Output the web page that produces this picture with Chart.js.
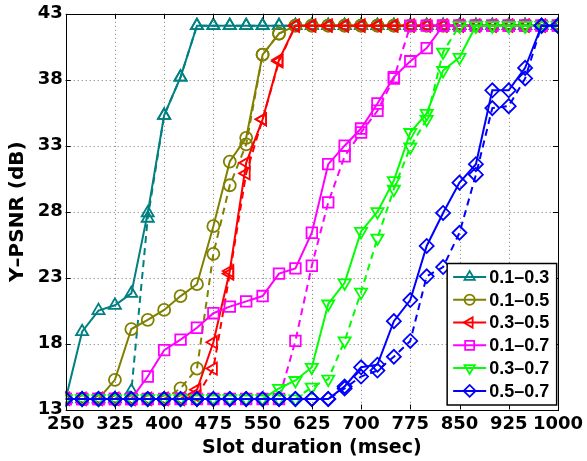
<!DOCTYPE html>
<html><head><meta charset="utf-8">
<script src="https://cdn.jsdelivr.net/npm/chart.js@4/dist/chart.umd.min.js"></script>
<style>html,body{margin:0;padding:0;background:#fff;}</style>
</head><body>
<canvas id="c" width="587" height="461" style="display:block;width:587px;height:461px"></canvas>
<script>
// ---- data ----
const slotDurations = [250,275,300,325,350,375,400,425,450,475,500,525,550,575,600,625,650,675,700,725,750,775,800,825,850,875,900,925,950,975,1000];
const xTickValues = [250,325,400,475,550,625,700,775,850,925,1000];
const yTickValues = [13,18,23,28,33,38,43];
const seriesLabels = ['0.1–0.3','0.1–0.5','0.3–0.5','0.1–0.7','0.3–0.7','0.5–0.7'];

const psnr_01_03_solid  = [13.8,18.9,20.5,20.9,21.8,27.9,35.3,38.2,42.1,42.1,42.1,42.1,42.1,42.1,42.1,42.1,42.1,42.1,42.1,42.1,42.1,42.1,42.1,42.1,42.1,42.1,42.1,42.1,42.1,42.1,42.1];
const psnr_01_03_dashed = [13.8,13.8,13.8,13.8,14.4,27.5,35.3,38.2,42.1,42.1,42.1,42.1,42.1,42.1,42.1,42.1,42.1,42.1,42.1,42.1,42.1,42.1,42.1,42.1,42.1,42.1,42.1,42.1,42.1,42.1,42.1];
const psnr_01_05_solid  = [13.8,13.8,13.8,15.25,19.1,19.8,20.55,21.6,22.5,26.9,31.8,33.6,39.9,41.5,42.1,42.1,42.1,42.1,42.1,42.1,42.1,42.1,42.1,42.1,42.1,42.1,42.1,42.1,42.1,42.1,42.1];
const psnr_01_05_dashed = [13.8,13.8,13.8,13.8,13.8,13.8,13.8,14.6,16.1,24.8,30.0,33.1,39.9,41.5,42.1,42.1,42.1,42.1,42.1,42.1,42.1,42.1,42.1,42.1,42.1,42.1,42.1,42.1,42.1,42.1,42.1];
const psnr_03_05_solid  = [13.8,13.8,13.8,13.8,13.8,13.8,13.8,13.8,14.5,18.1,23.5,31.7,35.0,39.5,42.1,42.1,42.1,42.1,42.1,42.1,42.1,42.1,42.1,42.1,42.1,42.1,42.1,42.1,42.1,42.1,42.1];
const psnr_03_05_dashed = [13.8,13.8,13.8,13.8,13.8,13.8,13.8,13.8,14.0,16.1,23.3,30.9,35.0,39.4,42.1,42.1,42.1,42.1,42.1,42.1,42.1,42.1,42.1,42.1,42.1,42.1,42.1,42.1,42.1,42.1,42.1];
const psnr_01_07_solid  = [13.8,13.8,13.8,13.8,13.8,15.5,17.5,18.3,19.2,20.3,20.8,21.2,21.6,23.3,23.7,26.4,31.6,33.0,34.3,36.2,38.2,39.4,40.4,42.1,42.1,42.1,42.1,42.1,42.1,42.1,42.1];
const psnr_01_07_dashed = [13.8,13.8,13.8,13.8,13.8,13.8,13.8,13.8,13.8,13.8,13.8,13.8,13.8,13.8,18.2,23.9,28.7,32.2,34.0,35.65,38.1,42.1,42.1,42.1,42.1,42.1,42.1,42.1,42.1,42.1,42.1];
const psnr_03_07_solid  = [13.8,13.8,13.8,13.8,13.8,13.8,13.8,13.8,13.8,13.8,13.8,13.8,13.8,14.6,15.2,16.2,21.0,22.6,26.5,28.0,30.35,34.0,35.45,38.7,39.7,42.1,42.1,42.1,42.1,42.1,42.1];
const psnr_03_07_dashed = [13.8,13.8,13.8,13.8,13.8,13.8,13.8,13.8,13.8,13.8,13.8,13.8,13.8,13.8,13.8,14.7,15.3,18.2,21.9,26.0,29.7,32.9,35.0,40.1,42.1,42.1,42.1,42.1,42.1,42.1,42.1];
const psnr_05_07_solid  = [13.8,13.8,13.8,13.8,13.8,13.8,13.8,13.8,13.8,13.8,13.8,13.8,13.8,13.8,13.8,13.8,13.8,14.75,16.2,16.4,19.7,21.3,25.4,27.9,30.2,31.6,37.2,37.2,38.9,42.1,42.1];
const psnr_05_07_dashed = [13.8,13.8,13.8,13.8,13.8,13.8,13.8,13.8,13.8,13.8,13.8,13.8,13.8,13.8,13.8,13.8,13.8,14.6,15.5,15.95,17.0,18.2,23.1,23.8,26.4,30.8,35.85,36.0,38.1,42.1,42.1];

// ---- styles ----
const seriesColors = ['#008080','#808000','#ff0000','#ff00ff','#00ff00','#0000ff'];
const seriesMarkers = [
  {pointStyle:'triangle', rotation:0,   radius:7},
  {pointStyle:'circle',   rotation:0,   radius:6},
  {pointStyle:'triangle', rotation:-90, radius:7},
  {pointStyle:'rect',     rotation:0,   radius:7.5},
  {pointStyle:'triangle', rotation:180, radius:7},
  {pointStyle:'rectRot',  rotation:0,   radius:7}
];
const solidSeries  = [psnr_01_03_solid, psnr_01_05_solid, psnr_03_05_solid, psnr_01_07_solid, psnr_03_07_solid, psnr_05_07_solid];
const dashedSeries = [psnr_01_03_dashed, psnr_01_05_dashed, psnr_03_05_dashed, psnr_01_07_dashed, psnr_03_07_dashed, psnr_05_07_dashed];

const datasets = [];
let orderCounter = 100;
for (let i = 0; i < seriesLabels.length; i++) {
  [[dashedSeries[i], [7,5], false], [solidSeries[i], [], true]].forEach(([vals, dash, isMain]) => {
    datasets.push({
      label: seriesLabels[i] + (isMain ? '' : ' (dashed)'),
      data: vals.map((v, k) => ({x: slotDurations[k], y: v})),
      borderColor: seriesColors[i],
      borderWidth: 2,
      borderDash: dash,
      backgroundColor: 'rgba(0,0,0,0)',
      pointStyle: seriesMarkers[i].pointStyle,
      rotation: seriesMarkers[i].rotation,
      pointRadius: seriesMarkers[i].radius,
      pointBorderWidth: 1.8,
      pointBorderColor: seriesColors[i],
      pointBackgroundColor: 'rgba(0,0,0,0)',
      fill: false,
      tension: 0,
      order: orderCounter--
    });
  });
}

const framePlugin = {
  id: 'frame',
  beforeDatasetsDraw(chart) {
    const {ctx, chartArea: a, scales: {x, y}} = chart;
    ctx.save();
    ctx.strokeStyle = '#7a7a7a'; ctx.lineWidth = 1; ctx.setLineDash([1,3]);
    x.ticks.forEach(t => {
      if (t.value === x.min || t.value === x.max) return;
      const px = Math.round(x.getPixelForValue(t.value)) + 0.5;
      ctx.beginPath(); ctx.moveTo(px, a.top); ctx.lineTo(px, a.bottom); ctx.stroke();
    });
    y.ticks.forEach(t => {
      if (t.value === y.min || t.value === y.max) return;
      const py = Math.round(y.getPixelForValue(t.value)) + 0.5;
      ctx.beginPath(); ctx.moveTo(a.left, py); ctx.lineTo(a.right, py); ctx.stroke();
    });
    ctx.restore();
  },
  afterDraw(chart) {
    const {ctx, chartArea: a, scales: {x, y}} = chart;
    ctx.save();
    ctx.setLineDash([]);
    ctx.strokeStyle = '#000'; ctx.lineWidth = 1;
    ctx.strokeRect(Math.round(a.left)+0.5, Math.round(a.top)+0.5, Math.round(a.right-a.left), Math.round(a.bottom-a.top));
    const tl = 5;
    x.ticks.forEach(t => {
      const px = Math.round(x.getPixelForValue(t.value)) + 0.5;
      ctx.beginPath(); ctx.moveTo(px, a.bottom); ctx.lineTo(px, a.bottom - tl);
      ctx.moveTo(px, a.top); ctx.lineTo(px, a.top + tl); ctx.stroke();
    });
    y.ticks.forEach(t => {
      const py = Math.round(y.getPixelForValue(t.value)) + 0.5;
      ctx.beginPath(); ctx.moveTo(a.left, py); ctx.lineTo(a.left + tl, py);
      ctx.moveTo(a.right, py); ctx.lineTo(a.right - tl, py); ctx.stroke();
    });
    // legend box
    const lw = 109.5, lh = 141.5;
    const lx = a.right - 1.3 - lw, ly = a.bottom - 4.5 - lh;
    ctx.fillStyle = '#fff';
    ctx.fillRect(lx, ly, lw, lh);
    ctx.strokeStyle = '#000'; ctx.lineWidth = 1.5;
    ctx.strokeRect(lx, ly, lw, lh);
    ctx.font = 'bold 18px "Liberation Sans", Arial, sans-serif';
    ctx.textBaseline = 'middle'; ctx.textAlign = 'left';
    for (let i = 0; i < seriesLabels.length; i++) {
      const ry = ly + 13.4 + i * 22.8;
      ctx.strokeStyle = seriesColors[i]; ctx.lineWidth = 2;
      ctx.beginPath(); ctx.moveTo(lx + 6, ry); ctx.lineTo(lx + 39, ry); ctx.stroke();
      ctx.fillStyle = 'rgba(0,0,0,0)'; ctx.lineWidth = 1.8;
      Chart.helpers.drawPoint(ctx, {pointStyle: seriesMarkers[i].pointStyle, rotation: seriesMarkers[i].rotation, radius: seriesMarkers[i].radius * 0.85, borderWidth: 1.8}, lx + 22.5, ry);
      ctx.fillStyle = '#000';
      ctx.fillText(seriesLabels[i], lx + 42, ry + 1);
    }
    ctx.restore();
  }
};

Chart.defaults.font.family = '"DejaVu Sans", sans-serif';
Chart.defaults.color = '#000';

new Chart(document.getElementById('c'), {
  type: 'line',
  data: {datasets},
  options: {
    responsive: false,
    animation: false,
    devicePixelRatio: 1,
    layout: {padding: {top: 13.3, right: 28.7, left: 0, bottom: 0}},
    plugins: {legend: {display: false}, tooltip: {enabled: false}},
    scales: {
      x: {
        type: 'linear', min: 250, max: 1000,
        afterBuildTicks: s => { s.ticks = xTickValues.map(v => ({value: v})); },
        afterFit: s => { s.height = 51.5; },
        grid: {display: false, drawTicks: false},
        border: {display: false},
        ticks: {font: {size: 18, weight: 'bold'}, color: '#000', padding: 4, maxRotation: 0, autoSkip: false, callback: v => String(v)},
        title: {display: true, text: 'Slot duration (msec)', font: {size: 19, weight: 'bold'}, color: '#000', padding: {top: 0, bottom: 2}}
      },
      y: {
        type: 'linear', min: 13, max: 43,
        afterBuildTicks: s => { s.ticks = yTickValues.map(v => ({value: v})); },
        afterFit: s => { s.width = 65.7; },
        grid: {display: false, drawTicks: false},
        border: {display: false},
        ticks: {font: {size: 18, weight: 'bold'}, color: '#000', padding: 3, callback: v => String(v)},
        title: {display: true, text: 'Y–PSNR (dB)', font: {size: 20, weight: 'bold'}, color: '#000', padding: {top: 6, bottom: 0}}
      }
    }
  },
  plugins: [framePlugin]
});
</script>
</body></html>
